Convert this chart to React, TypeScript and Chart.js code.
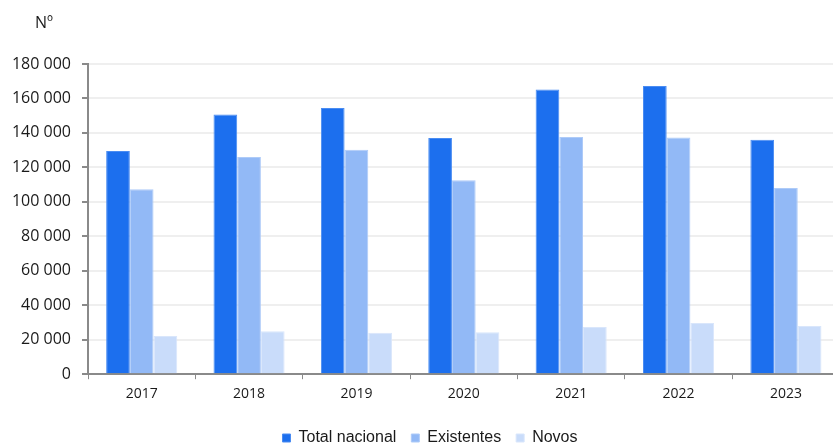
import React, { useEffect, useRef } from "react";
import { Chart, registerables } from "chart.js";

Chart.register(...registerables);

const categories = ["2017", "2018", "2019", "2020", "2021", "2022", "2023"];
const totalNacional = [129500, 150700, 154400, 137000, 165200, 167300, 136000];
const existentes = [107300, 126000, 130200, 112600, 137600, 137400, 108000];
const novos = [22200, 24900, 24100, 24300, 27400, 29700, 28000];
const seriesNames = ["Total nacional", "Existentes", "Novos"];
const yUnit = "Nº";

const fmt = (v: number) => String(v).replace(/\B(?=(\d{3})+(?!\d))/g, " ");

export default function App() {
  const ref = useRef<HTMLCanvasElement | null>(null);

  useEffect(() => {
    const canvas = ref.current;
    if (!canvas) return;
    const unitPlugin = {
      id: "unitLabel",
      afterDraw(chart: any) {
        const ctx = chart.ctx;
        ctx.save();
        ctx.font = "16px 'Open Sans'";
        ctx.fillStyle = "#1a1a1a";
        ctx.textAlign = "center";
        ctx.textBaseline = "middle";
        ctx.fillText(yUnit, 44, 23);
        ctx.restore();
      },
    };
    const chart = new Chart(canvas, {
      type: "bar",
      data: {
        labels: categories,
        datasets: [
          { label: seriesNames[0], data: totalNacional, backgroundColor: "#1c6fee", borderColor: "#4a8cf2", borderWidth: 1 },
          { label: seriesNames[1], data: existentes, backgroundColor: "#92b9f6", borderColor: "#aecbf8", borderWidth: 1 },
          { label: seriesNames[2], data: novos, backgroundColor: "#c9dcfa", borderColor: "#d9e6fb", borderWidth: 1 },
        ],
      },
      options: {
        responsive: false,
        animation: false,
        layout: { padding: { left: 0, right: 0, top: 64, bottom: 2 } },
        datasets: { bar: { categoryPercentage: 0.662, barPercentage: 1 } },
        plugins: {
          tooltip: { enabled: false },
          legend: {
            position: "bottom",
            labels: {
              boxWidth: 8,
              boxHeight: 8,
              padding: 15,
              color: "#1a1a1a",
              font: { family: "'Liberation Sans', Arial", size: 16 },
            },
          },
        },
        scales: {
          x: {
            afterFit: (s: any) => { s.height += 6; },
            grid: { drawOnChartArea: false, drawTicks: true, tickLength: 5, tickColor: "#8a8a8a", offset: true },
            border: { color: "#8a8a8a", width: 2 },
            ticks: { color: "#1a1a1a", padding: 6.5, font: { family: "'Open Sans'", size: 14 }, maxRotation: 0 },
          },
          y: {
            min: 0,
            max: 180000,
            afterFit: (s: any) => { s.width = 88; },
            grid: { color: "#efefef", lineWidth: 2, tickLength: 6, tickColor: "#8a8a8a" },
            border: { color: "#8a8a8a", width: 2 },
            ticks: {
              stepSize: 20000,
              padding: 11,
              color: "#1a1a1a",
              font: { family: "'Open Sans'", size: 16 },
              callback: (v: any) => fmt(Number(v)),
            },
          },
          spacer: {
            type: "linear",
            position: "right",
            display: true,
            afterFit: (s: any) => { s.width = 20.4; },
            grid: { display: false, drawTicks: false },
            border: { display: false },
            ticks: { display: false },
          },
        },
      },
      plugins: [unitPlugin],
    });
    return () => chart.destroy();
  }, []);

  return (
    <div style={{ position: "fixed", left: 0, top: 0, width: 833, height: 445, overflow: "hidden", background: "#fff" }}>
      <canvas ref={ref} width={860} height={458} style={{ display: "block" }} />
    </div>
  );
}
